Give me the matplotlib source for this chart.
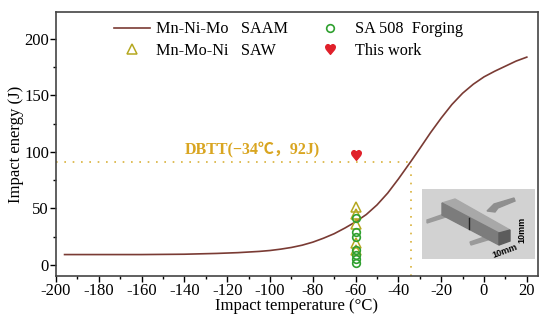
import matplotlib
matplotlib.use("Agg")
import matplotlib.pyplot as plt
from matplotlib.patches import Polygon

plt.rcParams["font.family"] = ["Liberation Serif", "Noto Sans CJK SC", "DejaVu Sans"]
plt.rcParams["axes.unicode_minus"] = False

# curve
curve_temp = [-196, -180, -160, -140, -125, -115, -105, -100, -95, -90, -85, -80, -75, -70, -65, -60, -55, -50, -45,
              -40, -37, -34, -30, -25, -20, -15, -10, -5, 0, 5, 10, 15, 20]
curve_energy = [9, 9, 9, 9.3, 10, 10.7, 11.8, 12.6, 13.8, 15.3, 17.3, 20, 23.5, 27.5, 32.5, 38, 44.5, 53, 63.5,
                76, 84, 92, 103, 117, 130, 142, 152, 160, 166.5, 171.5, 176, 180.5, 184]

saw_temp = [-60, -60, -60, -60, -60]
saw_energy = [51.5, 45, 36, 19, 13]
forging_temp = [-60, -60, -60, -60, -60, -60, -60]
forging_energy = [1.5, 5, 8.6, 13, 24.6, 29, 41]
work_temp = [-60]
work_energy = [97]
dbtt_temp = -34
dbtt_energy = 91

x_ticks = [-200, -180, -160, -140, -120, -100, -80, -60, -40, -20, 0, 20]
y_ticks = [0, 50, 100, 150, 200]

fig = plt.figure(figsize=(5.5, 3.23), dpi=100)
ax = fig.add_axes([56 / 550, 1 - 276 / 323, 481.5 / 550, 264 / 323])

ax.plot(curve_temp, curve_energy, color="#7a3b34", lw=1.2, label="Mn-Ni-Mo   SAAM")
ax.plot(saw_temp, saw_energy, ls="none", marker="^", ms=7.5, mfc="none", mec="#b5a820", mew=1.1,
        label="Mn-Mo-Ni   SAW")
ax.plot(forging_temp, forging_energy, ls="none", marker="o", ms=5.5, mfc="none", mec="#2fa02f", mew=1.2,
        label="SA 508  Forging")
ax.plot(work_temp, work_energy, ls="none", marker="$\u2665$", ms=7, color="#e0202a", label="This work")

# DBTT guide lines
ax.plot([-200, dbtt_temp], [dbtt_energy, dbtt_energy], color="#d9b23a", lw=1.2, ls=(0, (1, 4)))
ax.plot([dbtt_temp, dbtt_temp], [-10, dbtt_energy], color="#d9b23a", lw=1.2, ls=(0, (1, 4)))
ax.text(-140, 101, "DBTT(\u221234\u2103\uff0c92J)", color="#d9a520", fontsize=11.5, fontweight="bold",
        va="center", ha="left")

ax.set_xlim(-200, 25)
ax.set_ylim(-10, 224)
ax.set_xticks(x_ticks)
ax.set_xticks([t + 10 for t in x_ticks[:-1]], minor=True)
ax.set_yticks(y_ticks)
ax.set_yticks([25, 75, 125, 175], minor=True)
ax.tick_params(axis="both", which="major", length=4, width=1, labelsize=12, pad=1)
ax.tick_params(axis="both", which="minor", length=2.5, width=1)
ax.set_xlabel("Impact temperature (\u00b0C)", fontsize=12, labelpad=-1)
ax.set_ylabel("Impact energy (J)", fontsize=12, labelpad=0)
for s in ax.spines.values():
    s.set_linewidth(1.2)
    s.set_color("#444444")

ax.legend(loc="upper left", bbox_to_anchor=(0.12, 0.965), ncol=2, frameon=False, fontsize=11.7,
          handlelength=2.2, columnspacing=1.5, labelspacing=0.35, handletextpad=0.4, borderpad=0,
          borderaxespad=0)

# specimen sketch
ins = fig.add_axes([422 / 550, 1 - 259 / 323, 113 / 550, 70 / 323])
ins.set_xlim(0, 113)
ins.set_ylim(70, 0)
ins.set_facecolor("#d2d2d2")
ins.set_xticks([])
ins.set_yticks([])
for s in ins.spines.values():
    s.set_visible(False)
ins.add_patch(Polygon([[5, 31], [25, 24], [27, 27], [5, 34]], color="#9a9a9a"))
ins.add_patch(Polygon([[48, 53], [68, 46], [69, 50], [49, 56]], color="#9a9a9a"))
ins.add_patch(Polygon([[65, 22], [72, 15], [92, 9], [93, 12], [76, 19], [73, 23]], color="#8f8f8f"))
ins.add_patch(Polygon([[20, 14], [33, 10], [88, 41], [77, 44]], color="#a8a8a8"))
ins.add_patch(Polygon([[20, 14], [77, 44], [77, 56], [20, 26]], color="#7c7c7c"))
ins.add_patch(Polygon([[77, 44], [88, 41], [88, 52], [77, 56]], color="#5c5c5c"))
ins.plot([47, 47], [29, 40], color="#222222", lw=1)
ins.text(83, 62, "10mm", fontsize=6.5, fontweight="bold", family="Liberation Sans", rotation=20,
         ha="center", va="center")
ins.text(100, 41, "10mm", fontsize=6.5, fontweight="bold", family="Liberation Sans", rotation=90,
         ha="center", va="center")

fig.savefig("out.png", dpi=100)
